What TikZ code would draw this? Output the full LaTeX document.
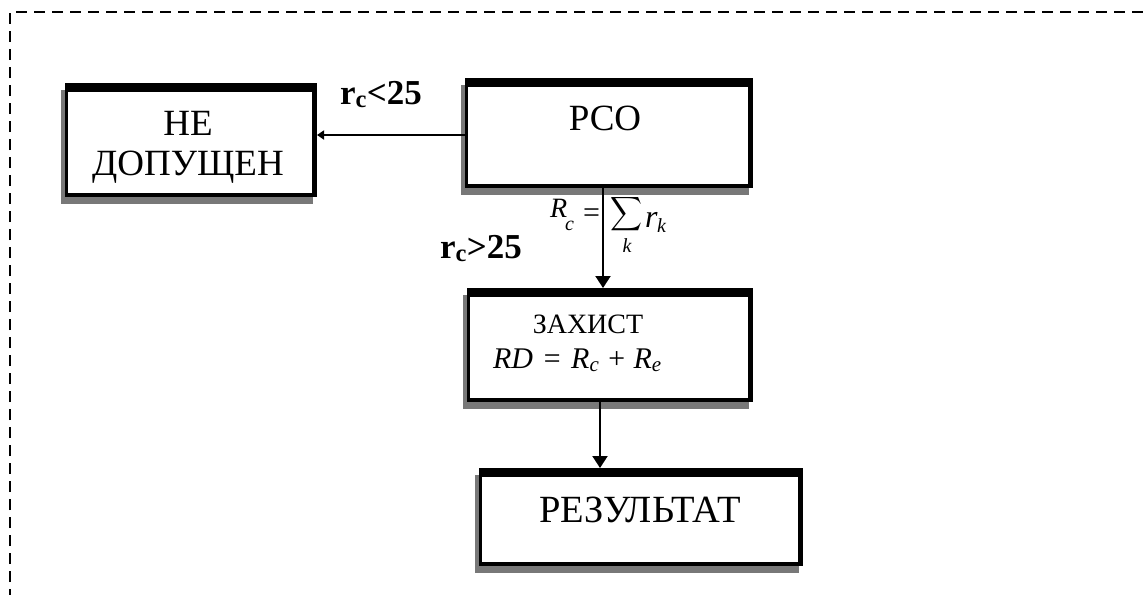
\documentclass[tikz,border=0pt]{standalone}
\usepackage{fontspec}
\usepackage{graphicx}
\setmainfont{Liberation Serif}
\usetikzlibrary{arrows.meta,calc,backgrounds}
\newcommand\fsz[1]{\fontsize{#1pt}{#1pt}\selectfont}
\definecolor{shadowgray}{RGB}{120,120,120}
\begin{document}
\begin{tikzpicture}[x=1pt,y=-1pt,
  boxn/.style={inner sep=0pt,outer sep=0pt,draw=none},
  txt/.style={inner sep=0pt,outer sep=0pt},
  frame/.style={line width=2.2pt,dash pattern=on 11pt off 7pt},
  conn/.style={line width=2pt},
  bigarr/.style={conn,-{Triangle[width=15pt,length=12pt]}},
  smallarr/.style={conn,-{Triangle[width=9pt,length=7pt]}}]
\useasboundingbox (0,0) rectangle (1147,594);
% frame
\draw[frame] (10,600) -- (10,12) -- (1150,12);
% boxes
\node[boxn,minimum width=252pt,minimum height=114pt] (A) at (191,140) {};
\node[boxn,minimum width=288pt,minimum height=110pt] (B) at (609,133) {};
\node[boxn,minimum width=286pt,minimum height=114pt] (C) at (610,345) {};
\node[boxn,minimum width=324pt,minimum height=98pt] (D) at (641,517) {};
\begin{scope}[on background layer]
\foreach \n in {A,B,C,D}{
  \fill[shadowgray] ($(\n.north west)+(-4,7)$) rectangle ($(\n.south east)+(-4,7)$);
  \fill[black] (\n.north west) rectangle (\n.south east);
  \fill[white] ($(\n.north west)+(3,9)$) rectangle ($(\n.south east)+(-5,-4)$);
}
\end{scope}
% texts
\node[txt,anchor=base] (tA1) at (188,135) {\fsz{37}НЕ};
\node[txt,anchor=base] (tA2) at (188,175) {\fsz{37}ДОПУЩЕН};
\node[txt,anchor=base] (tB) at (605,130) {\fsz{37}РСО};
\node[txt,anchor=base] (tC1) at (588,333) {\fsz{28}ЗАХИСТ};
\node[txt,anchor=base west] (tC2) at (493,368) {\fsz{30}\itshape RD\hspace{9pt}=\hspace{9pt}R\textsubscript{c}\hspace{7pt}+\hspace{7pt}R\textsubscript{e}};
\node[txt,anchor=base] (tD) at (640,522) {\fsz{38.5}РЕЗУЛЬТАТ};
% sum formula
\node[txt,anchor=base west] (sR) at (550,217) {\fsz{28}\itshape R};
\node[txt,anchor=base west] (sc) at (565,230) {\fsz{20}\itshape c};
\node[txt,anchor=base west] (seq) at (583,222) {\fsz{30}=};
\node[txt] (sS) at (626,214) {\resizebox*{32pt}{38pt}{$\displaystyle\sum$}};
\node[txt,anchor=base] (sk) at (627,252) {\fsz{20}\itshape k};
\node[txt,anchor=base west] (sr) at (645,227) {\fsz{32}\itshape r};
\node[txt,anchor=base west] (srk) at (657,232) {\fsz{20}\itshape k};
% labels
\node[txt,anchor=base west] (l1) at (340,104) {\fsz{35}\bfseries r\textsubscript{c}<25};
\node[txt,anchor=base west] (l2) at (440,258) {\fsz{35}\bfseries r\textsubscript{c}>25};
% connectors
\draw[smallarr] ([yshift=-2pt]B.west) -- ([yshift=5pt]A.east);
\draw[bigarr] ([xshift=-6pt]B.south) -- ([xshift=-7pt]C.north);
\draw[bigarr] ([xshift=-10pt]C.south) -- ([xshift=-41pt]D.north);
\end{tikzpicture}
\end{document}
